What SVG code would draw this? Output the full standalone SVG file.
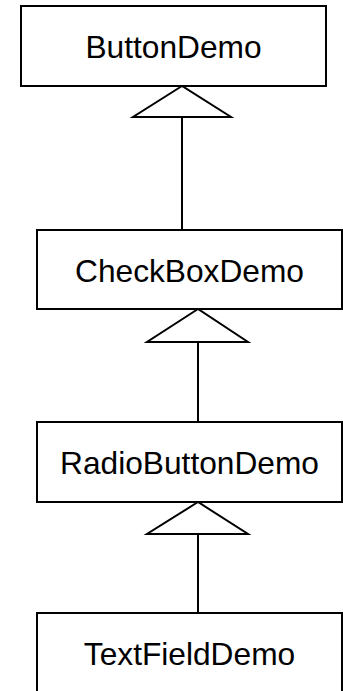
<svg xmlns="http://www.w3.org/2000/svg" width="343" height="691" viewBox="0 0 343 691">
<style>
.box{fill:#fff;stroke:#000;stroke-width:2}
.lbl{font-family:"Liberation Sans",Arial,sans-serif;font-size:31.7px;fill:#000;text-anchor:middle}
.edge{fill:none;stroke:#000;stroke-width:2}
.tri{fill:#fff;stroke:#000;stroke-width:2}
</style>
<rect width="343" height="691" fill="#fff"/>
<g id="connectors">
<line class="edge" x1="182" y1="117" x2="182" y2="230"/>
<polygon class="tri" points="182,86 133,117 231,117"/>
<line class="edge" x1="198" y1="342" x2="198" y2="422"/>
<polygon class="tri" points="198,309 147,342 248,342"/>
<line class="edge" x1="198" y1="534" x2="198" y2="613"/>
<polygon class="tri" points="198,502 147,534 248,534"/>
</g>
<g id="ButtonDemo">
<rect class="box" x="21" y="6" width="305" height="80"/>
<text class="lbl" x="173.5" y="57.5">ButtonDemo</text>
</g>
<g id="CheckBoxDemo">
<rect class="box" x="37" y="230" width="305" height="79"/>
<text class="lbl" x="189.5" y="281.5">CheckBoxDemo</text>
</g>
<g id="RadioButtonDemo">
<rect class="box" x="37" y="422" width="305" height="80"/>
<text class="lbl" x="189.5" y="473.5">RadioButtonDemo</text>
</g>
<g id="TextFieldDemo">
<rect class="box" x="37" y="613" width="305" height="80"/>
<text class="lbl" x="189.5" y="665">TextFieldDemo</text>
</g>
</svg>
